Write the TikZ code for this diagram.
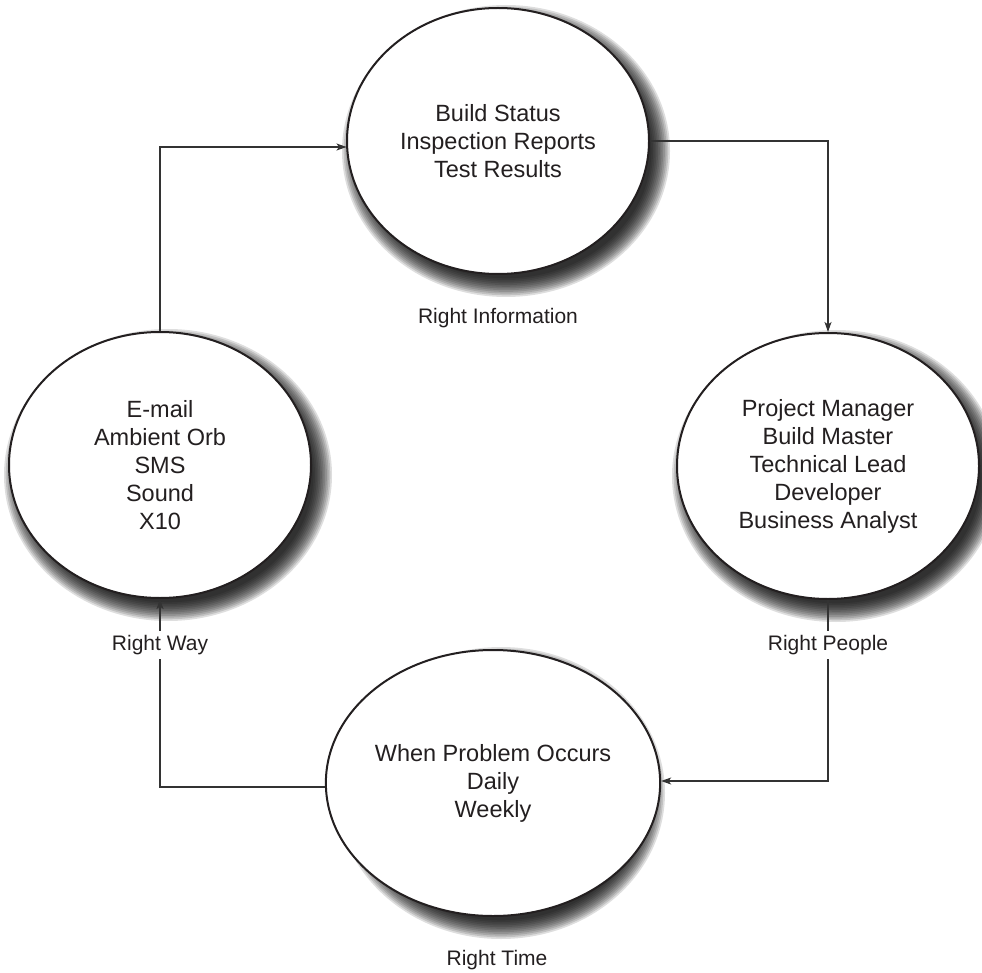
\documentclass[tikz,border=0pt]{standalone}
\usepackage{fontspec}
\setmainfont{Liberation Sans}
\usetikzlibrary{shapes.geometric,arrows.meta,calc}
\definecolor{inkc}{HTML}{231F20}
\definecolor{linec}{HTML}{333333}
\begin{document}
\begin{tikzpicture}[x=1pt,y=-1pt,
  bub/.style={ellipse,draw=inkc,line width=2pt,fill=white,
    minimum width=302pt,minimum height=266pt,inner sep=0pt,
    align=center,text=inkc,font=\fontsize{23.5}{28}\selectfont},
  shade/.style={fill=black,opacity=0.13},
  lab/.style={inner sep=4.5pt,text=inkc,font=\fontsize{21}{25}\selectfont},
  conn/.style={draw=linec,line width=1.1pt},
  arr/.style={conn,-{Stealth[length=10pt,width=7pt,inset=2.5pt]}}]
\useasboundingbox (0,0) rectangle (982,973);
\coordinate (cT) at (498,141);
\coordinate (cR) at (828,466);
\coordinate (cB) at (493,783);
\coordinate (cL) at (160,465);
\foreach \c in {cT,cR,cB,cL}{
  \foreach \k in {0,...,11}{
    \fill[shade] ($(\c)+(8,10)$) ellipse [x radius={164-\k*1.7}, y radius={146-\k*1.7}];
  }
}
\node[bub] (T) at (cT) {Build Status\\Inspection Reports\\Test Results};
\node[bub] (R) at (cR) {Project Manager\\Build Master\\Technical Lead\\Developer\\Business Analyst};
\node[bub] (B) at (cB) {When Problem Occurs\\Daily\\Weekly};
\node[bub] (L) at (cL) {E-mail\\Ambient Orb\\SMS\\Sound\\X10};
\node[lab] (ri) at (498,318) {Right Information};
\node[lab] (rp) at (828,645) {Right People};
\node[lab] (rt) at (497,960) {Right Time};
\node[lab] (rw) at (160,645) {Right Way};
\draw[arr] (L.north) |- ($(T.west)+(0.5,6)$);
\draw[arr] (T.east) -| (R.north);
\draw[conn] (R.south) -- (rp.north);
\draw[arr] (rp.south) |- ($(B.east)+(0,-2)$);
\draw[conn] ($(B.west)+(0,4)$) -| (rw.south);
\draw[arr] (rw.north) -- (L.south);
\end{tikzpicture}
\end{document}
